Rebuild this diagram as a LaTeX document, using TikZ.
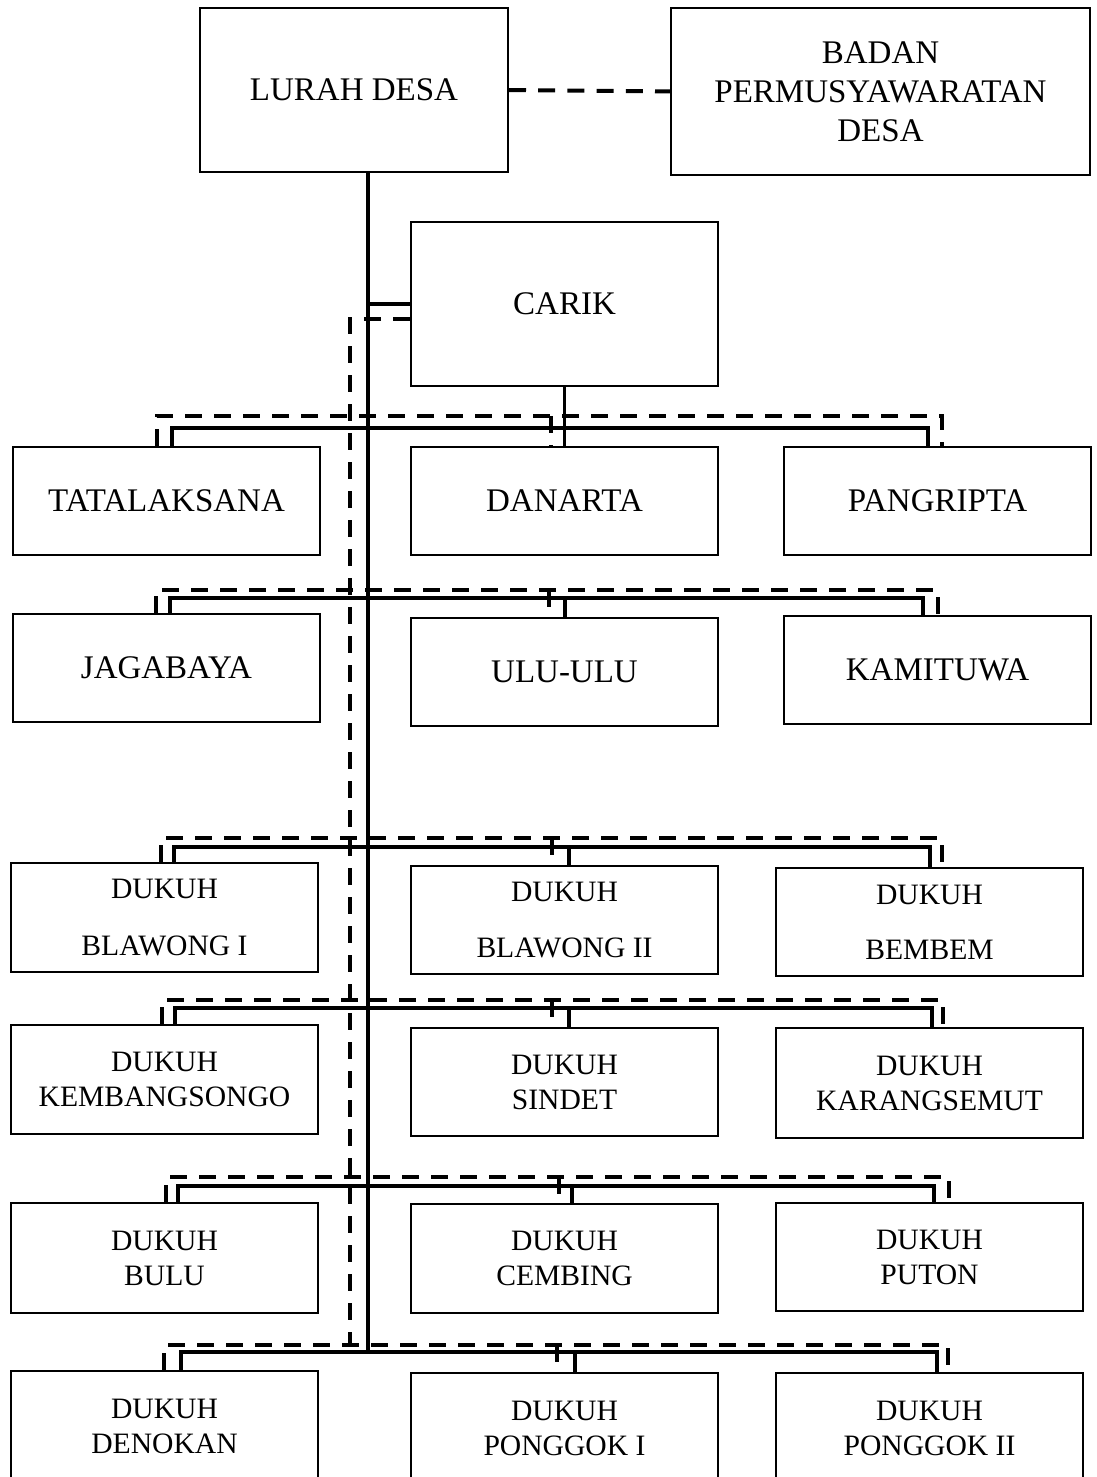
\documentclass[tikz,border=0pt]{standalone}
\usepackage{fontspec}
\setmainfont{Liberation Serif}
\begin{document}
\begin{tikzpicture}[x=1pt,y=-1pt,
  box/.style={draw,line width=2pt,inner sep=0pt,align=center,minimum width=307pt,minimum height=108pt,font=\fontsize{33}{39}\selectfont},
  dbox/.style={box,font=\fontsize{29.6}{35}\selectfont},
  sol/.style={line width=3.4pt},
  dsh/.style={line width=4pt,dash pattern=on 17pt off 12pt}]
\useasboundingbox (0,0) rectangle (1096,1477);
\clip (0,0) rectangle (1096,1477);
% boxes
\node[box,minimum width=308pt,minimum height=164pt,text depth=-6pt] (lurah) at (354,90) {LURAH DESA};
\node[box,minimum width=419pt,minimum height=167pt] (bpd) at (880.5,91.5) {BADAN\\PERMUSYAWARATAN\\DESA};
\node[box,minimum height=164pt,text depth=-6pt] (carik) at (564.5,304) {CARIK};
\node[box] (tata) at (166.5,501) {TATALAKSANA};
\node[box] (danarta) at (564.5,501) {DANARTA};
\node[box] (pangripta) at (937.5,501) {PANGRIPTA};
\node[box] (jaga) at (166.5,668) {JAGABAYA};
\node[box] (ulu) at (564.5,671.5) {ULU-ULU};
\node[box] (kami) at (937.5,670) {KAMITUWA};
\node[dbox,minimum height=109pt] (blw1) at (164.5,917.5) {DUKUH\\[22pt]BLAWONG I};
\node[dbox] (blw2) at (564.5,920) {DUKUH\\[21pt]BLAWONG II};
\node[dbox] (bembem) at (929.5,922) {DUKUH\\[20pt]BEMBEM};
\node[dbox,minimum height=109pt] (kembang) at (164.5,1079.5) {DUKUH\\KEMBANGSONGO};
\node[dbox] (sindet) at (564.5,1082) {DUKUH\\SINDET};
\node[dbox,minimum height=110pt] (karang) at (929.5,1083) {DUKUH\\KARANGSEMUT};
\node[dbox,minimum height=110pt] (bulu) at (164.5,1258) {DUKUH\\BULU};
\node[dbox,minimum height=109pt] (cembing) at (564.5,1258.5) {DUKUH\\CEMBING};
\node[dbox] (puton) at (929.5,1257) {DUKUH\\PUTON};
\node[dbox,minimum height=110pt] (denokan) at (164.5,1426) {DUKUH\\DENOKAN};
\node[dbox,minimum height=110pt] (pong1) at (564.5,1428) {DUKUH\\PONGGOK I};
\node[dbox,minimum height=110pt] (pong2) at (929.5,1428) {DUKUH\\PONGGOK II};
% top dashed link
\draw[line width=4pt,dash pattern=on 17pt off 12.2pt] (lurah.east) -- (bpd.west);
% trunks
\coordinate (trunkb) at (368,1352);
\draw[sol] (lurah.south -| trunkb) -- (trunkb);
\draw[sol] (carik.west) -- (carik.west -| trunkb);
\coordinate (dt) at (350,319);
\coordinate (dtb) at (350,1345);
\draw[dsh] (carik.west |- dt) -- (dt) -- (dtb);
% row 1
\coordinate (s1l) at (172,428);
\coordinate (s1r) at (928,428);
\draw[sol] (tata.north -| s1l) -- (s1l) -- (s1r) -- (pangripta.north -| s1r);
\draw[sol] (carik.south) -- (danarta.north);
\coordinate (d1l) at (157,416);
\coordinate (d1m) at (551,416);
\coordinate (d1r) at (942,416);
\draw[dsh] (tata.north -| d1l) -- (d1l) -- (d1r) -- (pangripta.north -| d1r);
\draw[dsh] (d1m) -- (danarta.north -| d1m);
% rows 2-6
\foreach \L/\M/\R/\dy/\dl/\dm/\dr/\sy/\sl/\sm/\sr in {
  jaga/ulu/kami/590/156/549/938/598/170/565/923,
  blw1/blw2/bembem/838/161/552/942/847/174/569/930,
  kembang/sindet/karang/1000/162/552/943/1008/175/569/932,
  bulu/cembing/puton/1177/166/559/949/1186/178/572/934,
  denokan/pong1/pong2/1345/164/557/948/1352/181/575/937}{
  \coordinate (dl) at (\dl,\dy);
  \coordinate (dm) at (\dm,\dy);
  \coordinate (dr) at (\dr,\dy);
  \coordinate (sl) at (\sl,\sy);
  \coordinate (sm) at (\sm,\sy);
  \coordinate (sr) at (\sr,\sy);
  \draw[dsh] (\L.north -| dl) -- (dl) -- (dr) -- (\R.north -| dr);
  \draw[dsh] (dm) -- (\M.north -| dm);
  \draw[sol] (\L.north -| sl) -- (sl) -- (sr) -- (\R.north -| sr);
  \draw[sol] (sm) -- (\M.north -| sm);
}
\end{tikzpicture}
\end{document}
